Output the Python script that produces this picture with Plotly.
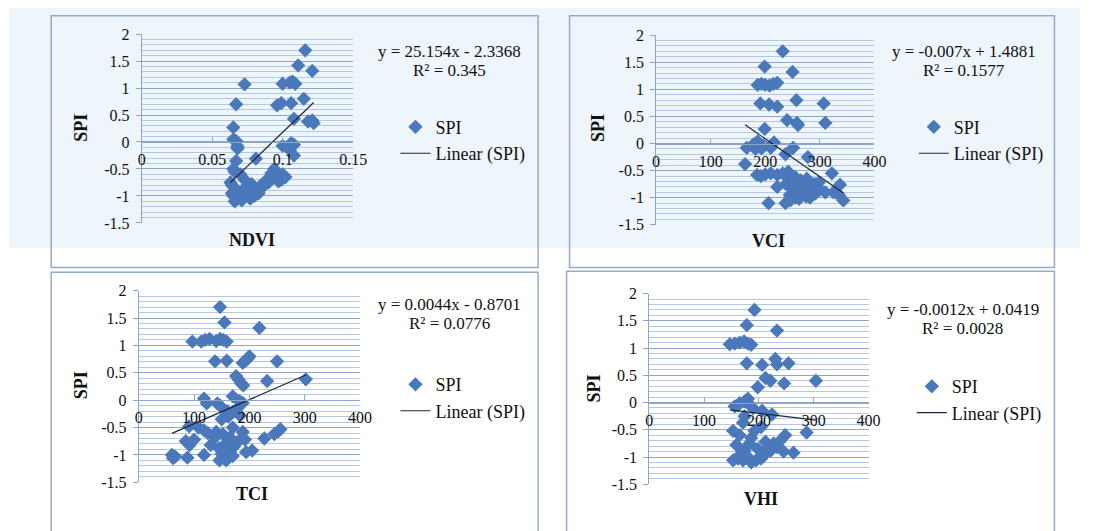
import plotly.graph_objects as go

W, H = 1094, 531
SERIF = "Liberation Serif"
BLUE = "#4A78BB"
LINE = "#1E2640"
MAJOR = "#8DA6C8"
MINOR = "#B6C8E0"
FRAME = "#94ABCD"

# ---------------- data ----------------
ndvi_x = [0.116, 0.111, 0.121, 0.073, 0.100, 0.105, 0.107, 0.109, 0.067, 0.096, 0.099, 0.106,
          0.115, 0.108, 0.118, 0.122, 0.121, 0.065, 0.065, 0.067, 0.068, 0.068, 0.100, 0.106,
          0.108, 0.105, 0.108, 0.081, 0.067, 0.065, 0.066, 0.094, 0.092, 0.100, 0.102, 0.099,
          0.097, 0.090, 0.087, 0.085, 0.083, 0.080, 0.077, 0.075, 0.073, 0.072, 0.070, 0.068,
          0.066, 0.064, 0.064, 0.066, 0.069, 0.071, 0.074, 0.076, 0.078, 0.072, 0.065, 0.063,
          0.070, 0.088, 0.095, 0.084]
ndvi_spi = [1.70, 1.42, 1.32, 1.07, 1.08, 1.10, 1.12, 1.08, 0.70, 0.68, 0.72, 0.72,
            0.80, 0.43, 0.38, 0.35, 0.40, 0.27, 0.05, 0.02, -0.08, -0.12, -0.07, -0.02,
            -0.05, -0.15, -0.25, -0.31, -0.35, -0.50, -0.55, -0.50, -0.58, -0.60, -0.65, -0.70,
            -0.73, -0.75, -0.80, -0.85, -0.95, -1.00, -1.05, -0.80, -0.70, -0.90, -0.95, -1.05,
            -1.10, -0.80, -0.95, -0.85, -1.00, -1.08, -0.95, -0.88, -0.78, -1.02, -1.00, -0.75,
            -0.60, -0.72, -0.62, -0.82]

vci_x = [232, 199, 250, 186, 193, 200, 208, 215, 222, 191, 207, 222, 257, 307, 240, 258, 260,
         310, 199, 166, 178, 186, 193, 198, 182, 216, 210, 251, 237, 278, 163, 322, 185, 192,
         200, 210, 222, 232, 242, 248, 255, 245, 222, 238, 252, 262, 272, 280, 290, 298, 285,
         270, 300, 310, 325, 337, 343, 335, 206, 237, 246, 255, 262, 275, 282, 292, 245, 265, 276]
vci_spi = [1.70, 1.42, 1.32, 1.08, 1.10, 1.08, 1.07, 1.10, 1.12, 0.74, 0.72, 0.68, 0.80, 0.74,
           0.43, 0.38, 0.34, 0.38, 0.27, -0.08, -0.02, 0.04, -0.09, -0.04, -0.10, 0.02, -0.08,
           -0.08, -0.20, -0.25, -0.38, -0.55, -0.58, -0.60, -0.57, -0.55, -0.58, -0.55, -0.52,
           -0.60, -0.62, -0.68, -0.80, -0.75, -0.85, -0.80, -0.72, -0.78, -0.75, -0.72, -0.88,
           -0.92, -0.85, -0.90, -0.90, -0.76, -1.05, -0.95, -1.10, -1.10, -1.05, -1.00, -1.02,
           -0.98, -1.00, -0.92, -0.95, -0.68, -0.65]

tci_x = [147, 155, 218, 97, 113, 120, 128, 140, 147, 153, 159, 138, 159, 188, 193, 198, 200,
         250, 176, 180, 185, 189, 232, 302, 118, 123, 142, 147, 170, 182, 188, 150, 162, 170,
         178, 160, 183, 91, 108, 118, 125, 140, 152, 170, 188, 245, 252, 256, 227, 85, 92, 100,
         130, 145, 158, 172, 180, 192, 165, 138, 60, 62, 66, 88, 118, 146, 158, 150, 165, 194,
         205, 170]
tci_spi = [1.70, 1.42, 1.32, 1.07, 1.07, 1.10, 1.12, 1.08, 1.12, 1.10, 1.07, 0.71, 0.72, 0.68,
           0.72, 0.77, 0.80, 0.71, 0.44, 0.38, 0.31, 0.27, 0.35, 0.38, 0.03, -0.06, -0.06,
           -0.10, 0.07, -0.02, -0.05, -0.35, -0.30, -0.22, -0.15, -0.20, -0.28, -0.48, -0.50,
           -0.55, -0.60, -0.58, -0.62, -0.50, -0.58, -0.62, -0.57, -0.53, -0.70, -0.75, -0.82,
           -0.72, -0.82, -0.88, -0.78, -0.85, -0.75, -0.72, -0.68, -0.68, -1.00, -1.06, -1.03,
           -1.05, -1.00, -1.10, -1.10, -0.98, -0.95, -0.95, -0.92, -1.02]

vhi_x = [192, 178, 233, 147, 156, 165, 173, 180, 186, 178, 206, 230, 233, 254, 212, 221, 246,
         198, 304, 156, 165, 174, 180, 183, 189, 162, 206, 224, 174, 171, 153, 165, 192, 204,
         186, 287, 248, 159, 183, 174, 212, 218, 227, 233, 239, 245, 263, 198, 222, 153, 162,
         171, 186, 195, 204, 209, 180, 167]
vhi_spi = [1.70, 1.42, 1.32, 1.07, 1.08, 1.10, 1.12, 1.08, 1.06, 0.72, 0.69, 0.80, 0.70, 0.72,
           0.45, 0.40, 0.35, 0.28, 0.40, -0.07, -0.01, 0.02, 0.07, -0.04, -0.10, -0.05, -0.15,
           -0.22, -0.25, -0.37, -0.52, -0.60, -0.52, -0.45, -0.65, -0.55, -0.60, -0.78, -0.75,
           -0.88, -0.72, -0.80, -0.75, -0.82, -0.70, -0.90, -0.92, -0.85, -0.88, -1.06, -1.03,
           -1.06, -1.10, -1.06, -1.03, -0.97, -1.00, -0.95]

index_names = ["NDVI", "VCI", "TCI", "VHI"]
slopes = [25.154, -0.007, 0.0044, -0.0012]
intercepts = [-2.3368, 1.4881, -0.8701, 0.0419]
equations = ["y = 25.154x - 2.3368", "y = -0.007x + 1.4881",
             "y = 0.0044x - 0.8701", "y = -0.0012x + 0.0419"]
r2_labels = ["R² = 0.345", "R² = 0.1577", "R² = 0.0776", "R² = 0.0028"]

x_ranges = [[0, 0.15], [0, 400], [0, 400], [0, 400]]
x_tickvals = [[0, 0.05, 0.1, 0.15], [0, 100, 200, 300, 400], [0, 100, 200, 300, 400],
              [0, 100, 200, 300, 400]]
x_ticktext = [["0", "0.05", "0.1", "0.15"], ["0", "100", "200", "300", "400"],
              ["0", "100", "200", "300", "400"], ["0", "100", "200", "300", "400"]]
y_tickvals = [-1.5, -1, -0.5, 0, 0.5, 1, 1.5, 2]
y_ticktext = ["-1.5", "-1", "-0.5", "0", "0.5", "1", "1.5", "2"]
y_range = [-1.5, 2]

xs = [ndvi_x, vci_x, tci_x, vhi_x]
ys = [ndvi_spi, vci_spi, tci_spi, vhi_spi]

# ---------------- layout geometry (pixels) ----------------
plot_px = [(140, 355, 27, 222), (663, 885, 28, 224), (137, 362, 292, 490), (656, 879, 295, 492)]
box_px = [(48, 8, 543, 268), (575, 8, 1068, 268), (48, 273, 543, 545), (572, 272, 1068, 545)]
ytitle_px = [(78, 124), (604, 124), (78, 390), (600, 393)]
xtitle_px = [(252, 240), (777, 241), (252, 502), (770, 507)]
eq_px = [(453, 45), (976, 45), (453, 306), (975, 311)]
legend_px = [(398, 104), (925, 104), (398, 370), (923, 372)]


def fx(p):
    return p / W


def fy(p):
    return 1 - p / H


fig = go.Figure()
shapes = []
annotations = []
layout = {}

# scanned light-blue band on the upper part
shapes.append(dict(type="rect", xref="paper", yref="paper", x0=fx(5), x1=1, y0=fy(248), y1=1,
                   fillcolor="#EEF5FB", line=dict(width=0), layer="below"))

for i in range(4):
    n = "" if i == 0 else str(i + 1)
    xa, ya = "x" + n, "y" + n
    legname = "legend" + n
    x0, x1, yt, yb = plot_px[i]
    ydom = [fy(yb), fy(yt)]
    zero_pos = ydom[0] + (0 - y_range[0]) / (y_range[1] - y_range[0]) * (ydom[1] - ydom[0])

    fig.add_trace(go.Scatter(
        x=xs[i], y=ys[i], mode="markers", name="SPI", xaxis=xa, yaxis=ya, legend=legname,
        legendgroup="a" + n,
        marker=dict(symbol="diamond", size=11, color=BLUE, line=dict(width=0))))
    xmin, xmax = min(xs[i]), max(xs[i])
    fig.add_trace(go.Scatter(
        x=[xmin, xmax], y=[slopes[i] * xmin + intercepts[i], slopes[i] * xmax + intercepts[i]],
        mode="lines", name="Linear (SPI)", xaxis=xa, yaxis=ya, legend=legname,
        legendgroup="b" + n, line=dict(color=LINE, width=1.2)))

    layout["xaxis" + n] = dict(
        domain=[fx(x0), fx(x1)], range=x_ranges[i], anchor="free", position=zero_pos,
        tickmode="array", tickvals=x_tickvals[i], ticktext=x_ticktext[i],
        showgrid=False, zeroline=False, showline=True, linecolor=MAJOR, linewidth=1,
        ticks="inside", ticklen=5, tickcolor=MAJOR, ticklabelstandoff=3,
        tickfont=dict(family=SERIF, size=16, color="#111"))
    layout["yaxis" + n] = dict(
        domain=ydom, range=y_range, anchor=xa,
        tickmode="array", tickvals=y_tickvals, ticktext=y_ticktext,
        showgrid=True, gridcolor=MAJOR, gridwidth=1.2, zeroline=False,
        showline=True, linecolor=MAJOR, linewidth=1, ticks="outside", ticklen=5,
        tickcolor=MAJOR, ticklabelstandoff=3,
        minor=dict(tickmode="linear", tick0=0, dtick=0.1, showgrid=True, gridcolor=MINOR,
                   gridwidth=1, ticks=""),
        tickfont=dict(family=SERIF, size=16, color="#111"))

    lx, ly = legend_px[i]
    layout[legname] = dict(
        x=fx(lx), y=fy(ly), xanchor="left", yanchor="top", bgcolor="rgba(0,0,0,0)",
        font=dict(family=SERIF, size=18, color="#111"), tracegroupgap=0, itemwidth=30,
        traceorder="grouped")

    bx0, by0, bx1, by1 = box_px[i]
    shapes.append(dict(type="rect", xref="paper", yref="paper", x0=fx(bx0), x1=fx(bx1),
                       y0=fy(by1), y1=fy(by0), line=dict(color=FRAME, width=1.5),
                       fillcolor="rgba(0,0,0,0)", layer="below"))

    common = dict(xref="paper", yref="paper", showarrow=False, xanchor="center",
                  yanchor="middle")
    tx, ty = ytitle_px[i]
    annotations.append(dict(text="<b>SPI</b>", x=fx(tx), y=fy(ty), textangle=-90,
                            font=dict(family=SERIF, size=18, color="#111"), **common))
    tx, ty = xtitle_px[i]
    annotations.append(dict(text="<b>" + index_names[i] + "</b>", x=fx(tx), y=fy(ty),
                            font=dict(family=SERIF, size=18, color="#111"), **common))
    ex, ey = eq_px[i]
    annotations.append(dict(text=equations[i], x=fx(ex), y=fy(ey),
                            font=dict(family=SERIF, size=17, color="#111"), **common))
    annotations.append(dict(text=r2_labels[i], x=fx(ex), y=fy(ey + 20),
                            font=dict(family=SERIF, size=17, color="#111"), **common))

fig.update_layout(
    width=W, height=H, margin=dict(l=0, r=0, t=0, b=0),
    paper_bgcolor="white", plot_bgcolor="rgba(0,0,0,0)",
    shapes=shapes, annotations=annotations, **layout)

fig.write_html("out.html")
